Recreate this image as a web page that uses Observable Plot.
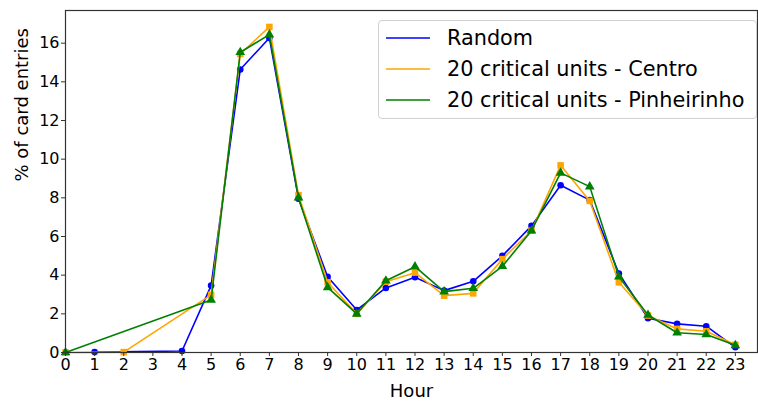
<!DOCTYPE html>
<html>
<head>
<meta charset="utf-8">
<script src="https://cdn.jsdelivr.net/npm/d3@7"></script>
<script src="https://cdn.jsdelivr.net/npm/@observablehq/plot@0.6"></script>
<style>
  html, body { margin: 0; padding: 0; background: #fff; }
  #wrap { position: relative; width: 758px; height: 402px; font-family: "DejaVu Sans", sans-serif; }
  #legend { position: absolute; left: 378px; top: 20px; width: 379px; height: 99px;
    border: 1px solid #d0d0d0; border-radius: 4px; background: rgba(255,255,255,0.85); box-sizing: border-box; }
  .row { position: absolute; left: 0; height: 26px; display: flex; align-items: center; font-size: 20.8px; color: #000; white-space: nowrap; }
  .row svg { margin-left: 7px; margin-right: 17px; }
</style>
</head>
<body>
<div id="wrap"></div>
<script>
const hours = d3.range(0, 24);
const seriesNames = ["Random", "20 critical units - Centro", "20 critical units - Pinheirinho"];
const seriesColors = ["blue", "orange", "green"];
const seriesSymbols = ["circle", "square", "triangle"];
const randomVals = [null, 0.02, null, null, 0.08, 3.46, 14.64, 16.27, 7.95, 3.92, 2.2, 3.34, 3.89, 3.2, 3.68, 5.0, 6.55, 8.65, 7.88, 4.09, 1.77, 1.48, 1.36, 0.27];
const centroVals = [0.0, null, 0.02, null, null, 2.98, 15.44, 16.84, 8.14, 3.63, 2.0, 3.66, 4.13, 2.94, 3.06, 4.83, 6.3, 9.68, 7.84, 3.63, 1.91, 1.22, 1.1, 0.4];
const pinheirinhoVals = [0.0, null, null, null, null, 2.72, 15.53, 16.44, 8.01, 3.37, 2.0, 3.71, 4.44, 3.15, 3.32, 4.46, 6.3, 9.29, 8.58, 3.92, 1.94, 1.02, 0.93, 0.37];
const yTicks = [0, 2, 4, 6, 8, 10, 12, 14, 16];

const allVals = [randomVals, centroVals, pinheirinhoVals];
const data = [];
allVals.forEach((vals, si) => {
  vals.forEach((v, i) => {
    if (v != null) data.push({hour: hours[i], value: v, series: seriesNames[si]});
  });
});

const marks = [];
seriesNames.forEach((name, si) => {
  const d = data.filter(r => r.series === name);
  marks.push(Plot.line(d, {x: "hour", y: "value", stroke: seriesColors[si], strokeWidth: 1.6}));
  marks.push(Plot.dot(d, {x: "hour", y: "value", fill: seriesColors[si], stroke: "none",
    symbol: seriesSymbols[si], r: si === 0 ? 3.3 : (si === 1 ? 3.7 : 3.6)}));
});

const chart = Plot.plot({
  width: 758,
  height: 402,
  marginLeft: 65,
  marginRight: 1,
  marginTop: 10,
  marginBottom: 50,
  style: {fontFamily: "DejaVu Sans, sans-serif", background: "#fff", color: "#000"},
  x: {domain: [0, 23.76]},
  y: {domain: [0, 17.69]},
  marks: [
    ...marks,
    Plot.frame({stroke: "#333", strokeWidth: 1.2}),
    Plot.axisX({ticks: hours, tickSize: 4, tickPadding: 2, fontSize: 16, tickFormat: d => String(d),
      label: null, stroke: "#333"}),
    Plot.axisY({ticks: yTicks, tickSize: 4, tickPadding: 2, fontSize: 16, tickFormat: d => String(d),
      label: null, stroke: "#333"}),
    Plot.text(["Hour"], {frameAnchor: "bottom", dy: 44, fontSize: 18, fill: "#000"}),
    Plot.text(["% of card entries"], {frameAnchor: "left", dx: -43, rotate: -90, fontSize: 18, fill: "#000"})
  ]
});

const wrap = document.getElementById("wrap");
wrap.appendChild(chart);

const legend = document.createElement("div");
legend.id = "legend";
seriesNames.forEach((name, si) => {
  const row = document.createElement("div");
  row.className = "row";
  row.style.top = (4 + si * 31) + "px";
  row.innerHTML = `<svg width="44" height="4"><line x1="0" x2="44" y1="2" y2="2" stroke="${seriesColors[si]}" stroke-width="1.6"/></svg><span>${name}</span>`;
  legend.appendChild(row);
});
wrap.appendChild(legend);
</script>
</body>
</html>
